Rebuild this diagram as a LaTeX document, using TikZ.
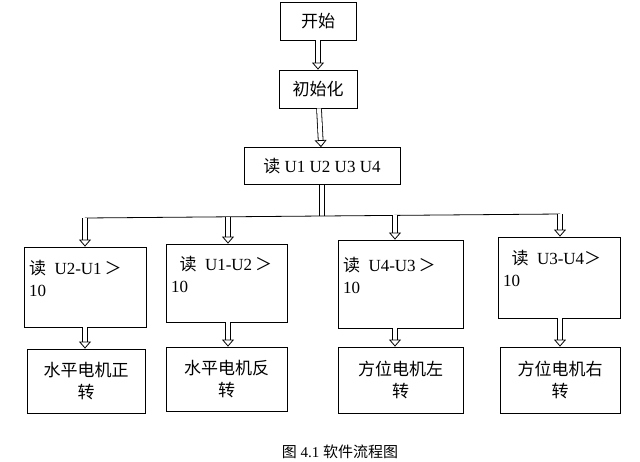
\documentclass[tikz,border=0pt]{standalone}
\usepackage{fontspec}
\setmainfont{Liberation Serif}
\newfontfamily\cjk{Noto Sans CJK SC}
\usetikzlibrary{arrows.meta}
\begin{document}
\begin{tikzpicture}[x=1pt,y=-1pt,
  box/.style={draw,thick,font=\fontsize{17}{22}\selectfont},
  hollow/.style={draw,double,double distance=4pt,thick,-{Triangle[fill=white,length=7pt,width=12pt]}},
  shaft/.style={draw,double,double distance=4pt,thick}]
\useasboundingbox (0,0) rectangle (640,461);
% top column
\node[box,minimum width=76pt,minimum height=38pt] (start) at (318,21) {\cjk 开始};
\node[box,minimum width=78pt,minimum height=38pt] (init) at (318,89) {\cjk 初始化};
\node[box,minimum width=156pt,minimum height=37pt] (read) at (322,166) {{\cjk 读} U1 U2 U3 U4};
\draw[hollow] (start) -- (init);
\draw[hollow] (init) -- (read);
% branch line
\coordinate (split) at (322,216);
\coordinate (b1) at (85,218);
\coordinate (b2) at (228,217);
\coordinate (b3) at (395,215);
\coordinate (b4) at (560,214);
\draw[shaft] (read.south -| split) -- (split);
\draw[thick] (b1) -- (b4);
% condition boxes
\node[box,minimum width=122pt,minimum height=80pt,align=left,text width=112pt] (c1) at (85,287)
  {{\cjk 读}\enspace U2-U1\,{\cjk ＞}\\10\\[-4pt]\mbox{}};
\node[box,minimum width=121pt,minimum height=78pt,align=left,text width=111pt] (c2) at (226.5,283)
  {\enspace{\cjk 读}\enspace U1-U2\,{\cjk ＞}\\10\\[-4pt]\mbox{}};
\node[box,minimum width=125pt,minimum height=88pt,align=left,text width=115pt] (c3) at (400.5,284)
  {{\cjk 读}\enspace U4-U3\,{\cjk ＞}\\10\\[-4pt]\mbox{}};
\node[box,minimum width=122pt,minimum height=81pt,align=left,text width=112pt] (c4) at (559,277.5)
  {\enspace{\cjk 读}\enspace U3-U4{\cjk ＞}\\10\\[-4pt]\mbox{}};
\draw[hollow] (b1) -- (b1 |- c1.north);
\draw[hollow] (b2) -- (b2 |- c2.north);
\draw[hollow] (b3) -- (b3 |- c3.north);
\draw[hollow] (b4) -- (b4 |- c4.north);
% action boxes
\node[box,minimum width=118pt,minimum height=64pt,text width=105pt,align=center] (a1) at (86,381) {\cjk 水平电机正\\转};
\node[box,minimum width=121pt,minimum height=64pt,text width=105pt,align=center] (a2) at (226.5,379) {\cjk 水平电机反\\转};
\node[box,minimum width=125pt,minimum height=66pt,text width=105pt,align=center] (a3) at (400.5,380) {\cjk 方位电机左\\转};
\node[box,minimum width=120pt,minimum height=66pt,text width=105pt,align=center] (a4) at (560,380) {\cjk 方位电机右\\转};
\draw[hollow] (c1.south -| b1) -- (a1.north -| b1);
\draw[hollow] (c2.south -| b2) -- (a2.north -| b2);
\draw[hollow] (c3.south -| b3) -- (a3.north -| b3);
\draw[hollow] (c4.south -| b4) -- (a4.north -| b4);
% caption
\node[font=\fontsize{15}{18}\selectfont] (cap) at (340,452) {{\cjk 图} 4.1 {\cjk 软件流程图}};
\end{tikzpicture}
\end{document}
